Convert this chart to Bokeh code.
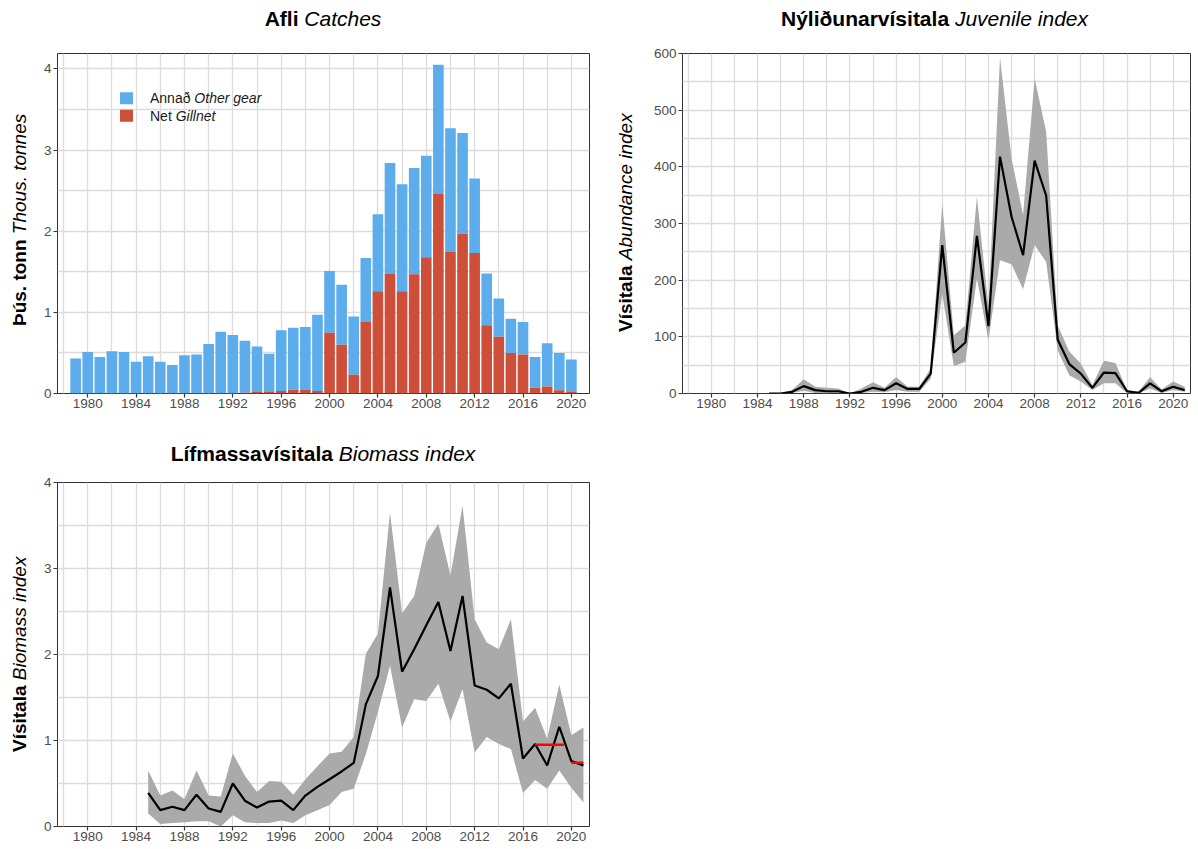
from bokeh.plotting import figure
from bokeh.models import Label, SingleIntervalTicker, Range1d, BoxAnnotation, Div
from bokeh.layouts import row, column
from bokeh.embed import file_html
from bokeh.resources import INLINE

# ---------------- data ----------------
catch_years = list(range(1979, 2021))
catch_total = [0.43, 0.51, 0.45, 0.52, 0.51, 0.39, 0.46, 0.39, 0.35, 0.47,
               0.48, 0.61, 0.76, 0.72, 0.65, 0.58, 0.49, 0.78, 0.81, 0.82,
               0.97, 1.51, 1.34, 0.95, 1.67, 2.21, 2.84, 2.58, 2.78, 2.93,
               4.05, 3.27, 3.21, 2.65, 1.48, 1.17, 0.92, 0.88, 0.45, 0.62,
               0.50, 0.42]
catch_gillnet = [0, 0, 0, 0, 0, 0, 0, 0, 0, 0,
                 0, 0, 0, 0, 0.01, 0.02, 0.02, 0.03, 0.045, 0.05,
                 0.03, 0.75, 0.60, 0.23, 0.88, 1.26, 1.48, 1.26, 1.47, 1.68,
                 2.46, 1.75, 1.97, 1.73, 0.84, 0.70, 0.50, 0.48, 0.07, 0.085,
                 0.04, 0.02]

juv_years = list(range(1985, 2022))
juv_index = [0, 0, 3, 13, 6, 4, 4, 0, 3, 10,
             6, 18, 8, 8, 35, 262, 72, 90, 278, 119,
             418, 312, 244, 411, 349, 95, 52, 35, 10, 37,
             36, 4, 1, 18, 4, 12, 6]
juv_upper = [0, 1, 6, 25, 12, 10, 9, 0, 9, 20,
             10, 29, 12, 12, 44, 335, 103, 120, 347, 153,
             593, 415, 315, 556, 462, 120, 74, 53, 15, 58,
             54, 6, 3, 29, 7, 21, 12]
juv_lower = [0, 0, 1, 5, 1, 1, 1, 0, 1, 3,
             2, 6, 3, 3, 26, 176, 48, 56, 203, 94,
             235, 228, 184, 262, 232, 76, 32, 21, 6, 18,
             18, 1, 0, 9, 1, 6, 3]

bio_years = list(range(1985, 2022))
bio_index = [0.39, 0.19, 0.23, 0.19, 0.37, 0.21, 0.17, 0.50, 0.30, 0.22,
             0.29, 0.30, 0.19, 0.36, 0.46, 0.55, 0.64, 0.74, 1.42, 1.75,
             2.78, 1.80, 2.06, 2.34, 2.61, 2.04, 2.68, 1.64, 1.59, 1.49,
             1.66, 0.79, 0.96, 0.71, 1.16, 0.76, 0.71]
bio_upper = [0.65, 0.36, 0.42, 0.32, 0.65, 0.36, 0.35, 0.85, 0.59, 0.40,
             0.53, 0.52, 0.37, 0.55, 0.70, 0.85, 0.87, 1.04, 2.01, 2.24,
             3.65, 2.48, 2.68, 3.30, 3.52, 2.92, 3.73, 2.41, 2.14, 2.06,
             2.41, 1.22, 1.38, 1.02, 1.65, 1.06, 1.15]
bio_lower = [0.15, 0.03, 0.04, 0.05, 0.06, 0.06, 0.00, 0.13, 0.05, 0.04,
             0.04, 0.07, 0.04, 0.13, 0.19, 0.25, 0.40, 0.44, 0.84, 1.33,
             1.87, 1.15, 1.48, 1.46, 1.66, 1.22, 1.60, 0.86, 1.04, 0.96,
             0.90, 0.39, 0.54, 0.44, 0.65, 0.45, 0.28]
ref_start = [2017, 2020]
ref_end = [2019.4, 2021]
ref_level = [0.95, 0.74]

titles = [("Afli", "Catches"), ("Nýliðunarvísitala", "Juvenile index"),
          ("Lífmassavísitala", "Biomass index")]
ylabels = [("Þús. tonn", "Thous. tonnes"), ("Vísitala", "Abundance index"),
           ("Vísitala", "Biomass index")]
legend_labels = [("Annað", "Other gear"), ("Net", "Gillnet")]

# ---------------- style ----------------
FONT = "Liberation Sans"
BLUE = "#5DADEC"
RED = "#CD4F39"
GRID = "#DCDCDC"
BAND = "#AAAAAA"
TITLE_FS = 21
YLAB_FS = 19
TICK_FS = "13.5px"
LEG_FS = 14

REG = {' ': 278, 'A': 667, 'G': 778, 'N': 722, 'a': 556, 'e': 556, 'n': 556,
       't': 278, 'ð': 556}


def tw(s, fs):
    return sum(REG.get(c, 556) for c in s) * fs / 1000.0


def title_div(parts, width, height, frame_left, frame_w, pad_top):
    b, i = parts
    html = (f'<div style="margin-left:{frame_left}px;width:{frame_w}px;padding-top:{pad_top}px;'
            f'text-align:center;font-family:\'{FONT}\';font-size:{TITLE_FS}px;line-height:24px;'
            f'color:#000;white-space:nowrap"><b>{b}</b> <i>{i}</i></div>')
    return Div(text=html, width=width, height=height, margin=(0, 0, 0, 0))


def ylabel_div(parts, width, height, top, frame_h, left):
    b, i = parts
    html = (f'<div style="writing-mode:vertical-rl;transform:rotate(180deg);'
            f'margin-top:{top}px;margin-left:{left}px;height:{frame_h}px;'
            f'text-align:center;font-family:\'{FONT}\';font-size:{YLAB_FS}px;'
            f'line-height:21px;color:#000;white-space:nowrap">'
            f'<b>{b}</b> <i>{i}</i></div>')
    return Div(text=html, width=width, height=height, margin=(0, 0, 0, 0))


def make_fig(width, height, ml, mr, mt, mb, ymax, ytick, ygrid):
    p = figure(width=width, height=height, output_backend="svg", toolbar_location=None,
               title=None, x_range=Range1d(1977.5, 2021.5), y_range=Range1d(0, ymax),
               min_border_left=ml, min_border_right=mr,
               min_border_top=mt, min_border_bottom=mb, margin=(0, 0, 0, 0))
    p.outline_line_color = "#333333"
    p.outline_line_width = 1
    p.background_fill_color = "white"
    p.border_fill_color = "white"
    p.xaxis.ticker = SingleIntervalTicker(interval=4, num_minor_ticks=0)
    p.yaxis.ticker = SingleIntervalTicker(interval=ytick, num_minor_ticks=0)
    p.xgrid.ticker = SingleIntervalTicker(interval=2, num_minor_ticks=0)
    p.ygrid.ticker = SingleIntervalTicker(interval=ygrid, num_minor_ticks=0)
    for g in (p.xgrid, p.ygrid):
        g.grid_line_color = GRID
        g.grid_line_width = 1.3
    for ax in (p.xaxis, p.yaxis):
        ax.axis_line_color = None
        ax.major_tick_line_color = "#333333"
        ax.major_tick_line_width = 1.2
        ax.major_tick_out = 4
        ax.major_tick_in = 0
        ax.minor_tick_line_color = None
        ax.major_label_text_font = FONT
        ax.major_label_text_font_size = TICK_FS
        ax.major_label_text_color = "#4D4D4D"
        ax.major_label_standoff = 2
    p.xaxis.major_label_standoff = 1
    return p


# ---------------- panel 1: catches ----------------
p1 = make_fig(558, 392, 17, 9, 7, 39, 4.19, 1, 0.5)
p1.vbar(x=catch_years, top=catch_total, bottom=catch_gillnet, width=0.88,
        fill_color=BLUE, line_color=None)
p1.vbar(x=catch_years, top=catch_gillnet, bottom=0, width=0.88,
        fill_color=RED, line_color=None)

for (reg, ital), col, top in zip(legend_labels, [BLUE, RED], [301.3, 283.7]):
    p1.add_layout(BoxAnnotation(left=62.5, right=75.5, top=top, bottom=top - 12,
                                left_units="screen", right_units="screen",
                                top_units="screen", bottom_units="screen",
                                fill_color=col, fill_alpha=1, line_color=None))
    common = dict(x_units="screen", y_units="screen", text_font=FONT,
                  text_font_size=f"{LEG_FS}px", text_color="#1A1A1A",
                  text_align="left", text_baseline="middle")
    p1.add_layout(Label(x=92.5, y=top - 6, text=reg, **common))
    p1.add_layout(Label(x=92.5 + tw(reg + " ", LEG_FS), y=top - 6, text=ital,
                        text_font_style="italic", **common))

# ---------------- panel 2: juvenile index ----------------
p2 = make_fig(548, 392, 29, 8, 13, 39, 600, 100, 50)
p2.varea(x=juv_years, y1=juv_lower, y2=juv_upper, fill_color=BAND)
p2.line(x=juv_years, y=juv_index, line_color="black", line_width=2.2)

# ---------------- panel 3: biomass index ----------------
p3 = make_fig(558, 376, 17, 9, 10, 22, 4, 1, 0.5)
p3.varea(x=bio_years, y1=bio_lower, y2=bio_upper, fill_color=BAND)
p3.line(x=bio_years, y=bio_index, line_color="black", line_width=2.2)
p3.segment(x0=ref_start, x1=ref_end, y0=ref_level, y1=ref_level,
           line_color="#FF0000", line_width=2.5)

# ---------------- titles and axis labels ----------------
t1 = title_div(titles[0], 598, 40, 57, 532, 7)
t2 = title_div(titles[1], 600, 40, 81, 511, 7)
t3 = title_div(titles[2], 598, 40, 57, 532, 10)
y1 = ylabel_div(ylabels[0], 40, 392, 7, 346, 9)
y2 = ylabel_div(ylabels[1], 52, 392, 13, 340, 17)
y3 = ylabel_div(ylabels[2], 40, 376, 10, 344, 9)

layout = column(row(t1, t2), row(y1, p1, y2, p2), t3, row(y3, p3))
open("out.html", "w").write(file_html(layout, INLINE))
